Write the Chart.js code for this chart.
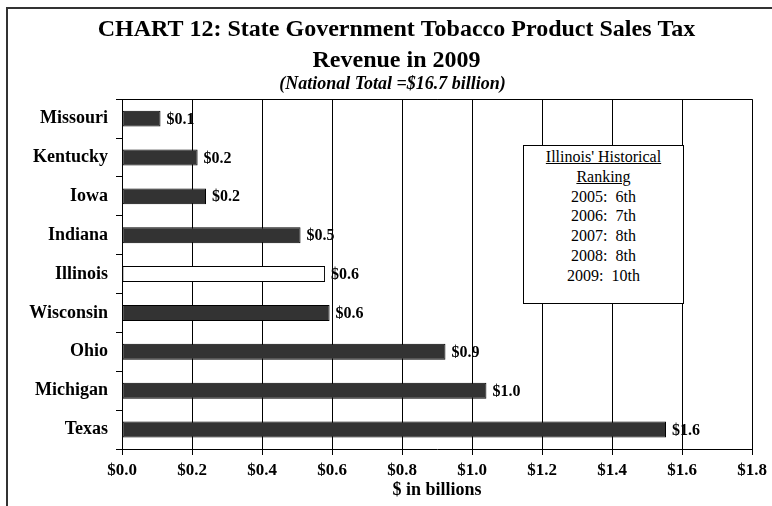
<!DOCTYPE html>
<html>
<head>
<meta charset="utf-8">
<script src="https://cdn.jsdelivr.net/npm/chart.js@4"></script>
<style>
    body { margin: 0; background: #fff; }
    #wrap { position: relative; width: 772px; height: 506px; }
    #frame { position: absolute; left: 6px; top: 7px; right: -4px; bottom: -4px; border-left: 2px solid #333; border-top: 2px solid #333; }
    #inset {
        position: absolute; left: 523px; top: 145px; width: 161px; height: 159px;
        border: 1px solid #000; background: #fff;
        font-family: "Liberation Serif", serif; font-size: 16px; color: #000;
        text-align: center; line-height: 19.8px; padding-top: 1px; box-sizing: border-box;
    }
    #inset u { text-decoration: underline; }
</style>
</head>
<body>
<div id="wrap">
    <canvas id="chart" width="772" height="506"></canvas>
    <div id="frame"></div>
    <div id="inset">
        <u>Illinois' Historical</u><br>
        <u>Ranking</u><br>
        2005:&nbsp; 6th<br>
        2006:&nbsp; 7th<br>
        2007:&nbsp; 8th<br>
        2008:&nbsp; 8th<br>
        2009:&nbsp; 10th
    </div>
</div>
<script>
// Data ($ billions)
const states = ['Missouri', 'Kentucky', 'Iowa', 'Indiana', 'Illinois', 'Wisconsin', 'Ohio', 'Michigan', 'Texas'];
const revenue = [0.11, 0.216, 0.24, 0.51, 0.58, 0.593, 0.924, 1.041, 1.554];
const highlight = 'Illinois';
const xTicks = [0, 0.2, 0.4, 0.6, 0.8, 1.0, 1.2, 1.4, 1.6, 1.8];

const serif = '"Liberation Serif", "Times New Roman", serif';

// Value labels at the end of each bar
const barLabels = {
    id: 'barLabels',
    afterDatasetsDraw(chart) {
        const ctx = chart.ctx;
        const meta = chart.getDatasetMeta(0);
        ctx.save();
        ctx.font = 'bold 16px ' + serif;
        ctx.fillStyle = '#000';
        ctx.textAlign = 'left';
        ctx.textBaseline = 'middle';
        meta.data.forEach((bar, i) => {
            ctx.fillText('$' + revenue[i].toFixed(1), bar.x + 6, bar.y + 1);
        });
        ctx.restore();
    }
};

// Top edge of the plot box
const plotFrame = {
    id: 'plotFrame',
    afterDraw(chart) {
        const a = chart.chartArea;
        const ctx = chart.ctx;
        ctx.save();
        ctx.strokeStyle = '#000';
        ctx.lineWidth = 1;
        ctx.beginPath();
        ctx.moveTo(a.left, Math.round(a.top) + 0.5);
        ctx.lineTo(a.right, Math.round(a.top) + 0.5);
        ctx.stroke();
        ctx.restore();
    }
};

// Nudge title/subtitle so they sit centred like the original
const titleShift = {
    id: 'titleShift',
    afterLayout(chart) {
        chart.boxes.forEach(box => {
            if (box.position !== 'top' || !box.options || box.options.text === undefined) return;
            const d = Array.isArray(box.options.text) ? 9 : 5;
            box.left += d;
            box.right += d;
        });
    }
};

new Chart(document.getElementById('chart'), {
    type: 'bar',
    data: {
        labels: states,
        datasets: [{
            data: revenue,
            backgroundColor: states.map(s => s === highlight ? '#ffffff' : '#333333'),
            borderColor: '#000',
            borderWidth: 1,
            borderSkipped: false,
            barPercentage: 0.41,
            categoryPercentage: 1
        }]
    },
    options: {
        indexAxis: 'y',
        responsive: false,
        animation: false,
        layout: { padding: { left: 20, right: 17, top: 8, bottom: 0 } },
        plugins: {
            legend: { display: false },
            tooltip: { enabled: false },
            title: {
                display: true,
                text: ['CHART 12: State Government Tobacco Product Sales Tax', 'Revenue in 2009'],
                color: '#000',
                font: { family: serif, size: 24, weight: 'bold', lineHeight: 1.31 },
                padding: { top: 6, bottom: 0 }
            },
            subtitle: {
                display: true,
                text: '(National Total =$16.7 billion)',
                color: '#000',
                font: { family: serif, size: 18, weight: 'bold', style: 'italic', lineHeight: 0.85 },
                padding: { top: 0, bottom: 7 }
            }
        },
        scales: {
            x: {
                min: 0,
                max: 1.8,
                afterBuildTicks: (scale) => { scale.ticks = xTicks.map(v => ({ value: v })); },
                afterFit: (scale) => { scale.height = 57; },
                ticks: {
                    color: '#000',
                    padding: 5,
                    font: { family: serif, size: 17, weight: 'bold' },
                    callback: (v) => '$' + Number(v).toFixed(1)
                },
                grid: { color: '#000', lineWidth: 1, tickLength: 6 },
                border: { color: '#000', width: 1 },
                title: {
                    display: true,
                    text: '$ in billions',
                    color: '#000',
                    font: { family: serif, size: 18, weight: 'bold' },
                    padding: { top: 0, bottom: 5 }
                }
            },
            y: {
                afterFit: (scale) => { scale.width = 102; },
                ticks: {
                    color: '#000',
                    padding: 8,
                    font: { family: serif, size: 18, weight: 'bold' }
                },
                grid: { drawOnChartArea: false, color: '#000', tickLength: 6 },
                border: { color: '#000', width: 1 }
            }
        }
    },
    plugins: [barLabels, plotFrame, titleShift]
});
</script>
</body>
</html>
